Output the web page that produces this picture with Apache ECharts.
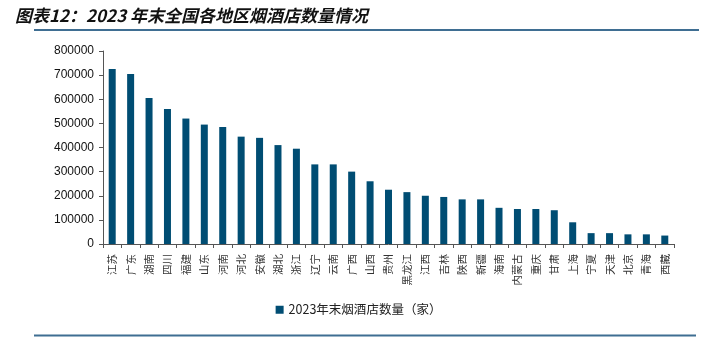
<!DOCTYPE html>
<html><head><meta charset="utf-8">
<script src="https://cdn.jsdelivr.net/npm/echarts@6/dist/echarts.min.js"></script>
<style>html,body{margin:0;padding:0;background:#fff;}#c{width:717px;height:345px;}</style>
</head><body><div id="c"></div>
<script>
const categories = ['江苏','广东','湖南','四川','福建','山东','河南','河北','安徽','湖北','浙江','辽宁','云南','广西','山西','贵州','黑龙江','江西','吉林','陕西','新疆','海南','内蒙古','重庆','甘肃','上海','宁夏','天津','北京','青海','西藏'];
const values = [725000,705000,605000,560000,520000,495000,485000,445000,440000,410000,395000,330000,330000,300000,260000,225000,215000,200000,195000,185000,185000,150000,145000,145000,140000,90000,45000,45000,40000,40000,35000];
const seriesName = '2023年末烟酒店数量（家）';
const titleText = '图表12：2023 年末全国各地区烟酒店数量情况';
const yTicks = {min:0, max:800000, interval:100000};

const chart = echarts.init(document.getElementById('c'));
chart.setOption({
  animation:false,
  title:{text:titleText,left:10,top:2,textStyle:{fontSize:17,fontStyle:'italic',fontWeight:'bold',color:'#111',fontFamily:'"Noto Sans CJK SC", sans-serif'}},
  graphic:[
    {type:'line',shape:{x1:34,y1:30,x2:699,y2:30},style:{stroke:'#3f6e92',lineWidth:2}},
    {type:'line',shape:{x1:34,y1:335.5,x2:696,y2:335.5},style:{stroke:'#3f6e92',lineWidth:2}}
  ],
  grid:{left:103,right:43,top:51,bottom:101},
  legend:{bottom:24,left:'center',itemWidth:8,itemHeight:8,itemGap:3,icon:'rect',
    textStyle:{fontSize:12.5,color:'#222',fontFamily:'"Noto Sans CJK SC", sans-serif'},data:[seriesName]},
  xAxis:{type:'category',data:categories,
    axisLine:{lineStyle:{color:'#555',width:1}},
    axisTick:{show:true,alignWithLabel:false,length:4,lineStyle:{color:'#555'}},
    axisLabel:{rotate:90,fontSize:10.5,color:'#333',margin:10,interval:0,fontFamily:'"Noto Sans CJK SC", sans-serif'}},
  yAxis:{type:'value',min:yTicks.min,max:yTicks.max,interval:yTicks.interval,
    axisLine:{show:true,lineStyle:{color:'#555'}},
    axisTick:{show:true,length:4,lineStyle:{color:'#555'}},
    splitLine:{show:false},
    axisLabel:{fontSize:12,color:'#111',margin:9,formatter:v=>String(v),fontFamily:'"Liberation Sans", Arial, sans-serif'}},
  series:[{name:seriesName,type:'bar',data:values,barWidth:'38%',itemStyle:{color:'#004d73'}}]
});
</script></body></html>
